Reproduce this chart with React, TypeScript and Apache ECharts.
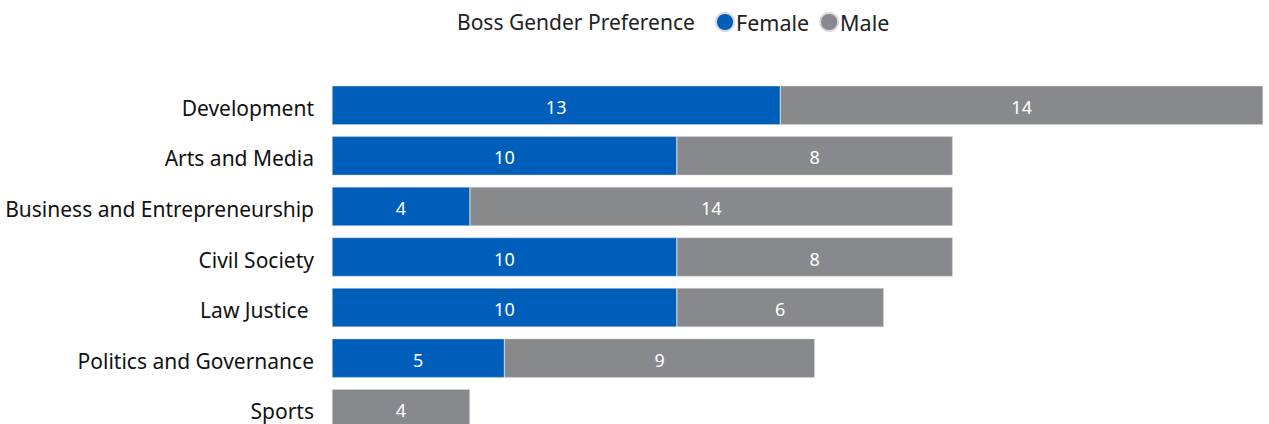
import React, { useEffect, useRef } from "react";
import * as echarts from "echarts";

const categories = [
  "Development",
  "Arts and Media",
  "Business and Entrepreneurship",
  "Civil Society",
  "Law Justice ",
  "Politics and Governance",
  "Sports",
];
const femaleValues: (number | null)[] = [13, 10, 4, 10, 10, 5, null];
const maleValues: (number | null)[] = [14, 8, 14, 8, 6, 9, 4];
const legendTitle = "Boss Gender Preference";

const FONT = "'Noto Sans', 'Open Sans', sans-serif";

export default function App() {
  const ref = useRef<HTMLDivElement>(null);
  useEffect(() => {
    if (!ref.current) return;
    const chart = echarts.init(ref.current, undefined, { renderer: "svg" });
    const labelStyle = {
      show: true,
      position: "inside" as const,
      color: "#ffffff",
      fontSize: 18,
      fontFamily: FONT,
      verticalAlign: "top" as const,
      lineHeight: 3,
    };
    chart.setOption({
      animation: false,
      backgroundColor: "#ffffff",
      graphic: [
        {
          type: "text",
          left: 457,
          top: 11,
          style: {
            text: legendTitle,
            fontSize: 21,
            fill: "#222",
            fontFamily: FONT,
          },
        },
      ],
      legend: {
        left: 715,
        top: 11,
        padding: 0,
        icon: "circle",
        itemWidth: 18,
        itemHeight: 18,
        itemGap: 10,
        textStyle: { fontSize: 21.5, color: "#222", fontFamily: FONT, padding: [0, 0, 0, -3] },
        data: ["Female", "Male"],
      },
      grid: { left: 332, right: 6, top: 80, bottom: 6 },
      xAxis: { type: "value", min: 0, max: 27, show: false },
      yAxis: {
        type: "category",
        inverse: true,
        data: categories,
        axisLine: { show: false },
        axisTick: { show: false },
        axisLabel: {
          fontSize: 21,
          color: "#111",
          fontFamily: FONT,
          margin: 18,
          verticalAlign: "top",
          lineHeight: 5,
        },
      },
      series: [
        {
          name: "Female",
          type: "bar",
          stack: "total",
          barWidth: 39,
          data: femaleValues,
          itemStyle: { color: "#005EBB", borderColor: "#d8d8d8", borderWidth: 0.5 },
          label: labelStyle,
        },
        {
          name: "Male",
          type: "bar",
          stack: "total",
          barWidth: 39,
          data: maleValues,
          itemStyle: { color: "#88898C", borderColor: "#d8d8d8", borderWidth: 0.5 },
          label: labelStyle,
        },
      ],
    });
    return () => chart.dispose();
  }, []);
  return (
    <div
      ref={ref}
      style={{ position: "fixed", left: 0, top: 0, width: 1269, height: 440 }}
    />
  );
}
